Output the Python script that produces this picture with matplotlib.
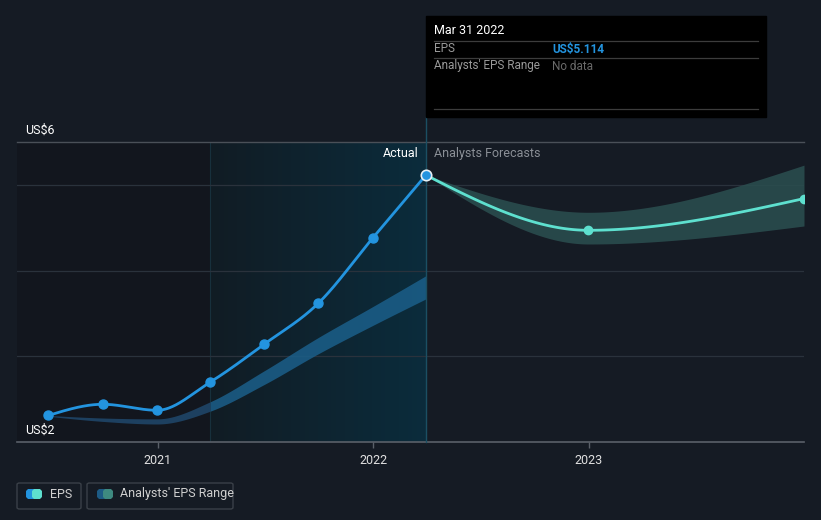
import matplotlib.pyplot as plt
import matplotlib.dates as mdates
import numpy as np
import pandas as pd
from matplotlib.colors import LinearSegmentedColormap
from matplotlib.patches import Rectangle, FancyBboxPatch, Circle

plt.rcParams['font.family'] = ['Roboto', 'DejaVu Sans']

# reported EPS (US$)
eps_dates = ['2020-06-30', '2020-09-30', '2020-12-31', '2021-03-31',
             '2021-06-30', '2021-09-30', '2021-12-31', '2022-03-31']
eps_values = [2.31, 2.44, 2.37, 2.70, 3.14, 3.62, 4.38, 5.114]

# past analyst estimate range
past_high = [2.31, 2.28, 2.27, 2.47, 2.83, 3.22, 3.58, 3.94]
past_low = [2.30, 2.24, 2.21, 2.36, 2.67, 3.03, 3.36, 3.67]

# analyst forecasts
fc_dates = ['2022-03-31', '2022-12-31', '2023-12-31']
fc_values = [5.114, 4.47, 4.84]
fc_high = [5.114, 4.68, 5.23]
fc_low = [5.114, 4.31, 4.52]

year_ticks = ['2021-01-01', '2022-01-01', '2023-01-01']
year_labels = ['2021', '2022', '2023']
grid_levels = [3, 4, 5]

BG = '#151b24'
BLUE = '#2394df'
TEAL = '#5ee0cf'
W, H = 821, 520


def monotone(x, y, n=60):
    """Monotone cubic curve (like d3 curveMonotoneX) for drawing."""
    x = np.asarray(x, float)
    y = np.asarray(y, float)
    h = np.diff(x)
    d = np.diff(y) / h
    m = np.zeros_like(y)
    for i in range(1, len(y) - 1):
        p = (d[i - 1] * h[i] + d[i] * h[i - 1]) / (h[i - 1] + h[i])
        m[i] = (np.sign(d[i - 1]) + np.sign(d[i])) * min(abs(d[i - 1]), abs(d[i]), 0.5 * abs(p))
    m[0] = (3 * d[0] - m[1]) / 2
    m[-1] = (3 * d[-1] - m[-2]) / 2
    xs, ys = [], []
    for i in range(len(h)):
        t = np.linspace(0, 1, n)
        h00 = 2 * t**3 - 3 * t**2 + 1
        h10 = t**3 - 2 * t**2 + t
        h01 = -2 * t**3 + 3 * t**2
        h11 = t**3 - t**2
        xs.append(x[i] + t * h[i])
        ys.append(h00 * y[i] + h10 * h[i] * m[i] + h01 * y[i + 1] + h11 * h[i] * m[i + 1])
    return np.concatenate(xs), np.concatenate(ys)


def fx(px):
    return px / W


def fy(py):
    return 1 - py / H


fig = plt.figure(figsize=(8.21, 5.2), dpi=100, facecolor=BG)
ax = fig.add_axes([fx(17), fy(442), fx(804) - fx(17), fy(142) - fy(442)])
ax.set_facecolor(BG)

ex = mdates.date2num(pd.to_datetime(eps_dates))
fcx = mdates.date2num(pd.to_datetime(fc_dates))
tx = mdates.date2num(pd.to_datetime(year_ticks))

x0 = tx[0] - 141 / 216 * 365
x1 = fcx[-1]
ax.set_xlim(x0, x1)
ax.set_ylim(2, 5.5)

# shaded backgrounds
hl_start = ex[3]
ax.axvspan(x0, hl_start, color='#12161e', zorder=0, lw=0)
grad = np.linspace(0, 1, 256).reshape(1, -1)
cmap = LinearSegmentedColormap.from_list('hl', ['#111c24', '#0b2c3c'])
ax.imshow(grad, cmap=cmap, aspect='auto', extent=[hl_start, ex[-1], 2, 5.5], zorder=0)
ax.axvline(hl_start, color='#17303c', lw=0.8, zorder=1)

# grid
for g in grid_levels:
    ax.axhline(g, color='#2a323c', lw=0.9, zorder=1)
ax.axhline(5.5, color='#4a5058', lw=1.0, zorder=1, clip_on=False)

for s in ax.spines.values():
    s.set_visible(False)
ax.axhline(2, color='#5a6069', lw=1.2, zorder=2, clip_on=False)
ax.set_xticks(tx)
ax.set_xticklabels(year_labels)
ax.tick_params(axis='x', colors='#5a6069', length=4, width=1, labelcolor='#e0e0e0',
               labelsize=9, pad=5)
ax.set_yticks([])

# past range band
bx, bh = monotone(ex, past_high)
_, bl = monotone(ex, past_low)
ax.fill_between(bx, bl, bh, where=bx <= hl_start + 1, color='#1d4060', lw=0, zorder=2)
ax.fill_between(bx, bl, bh, where=bx >= hl_start, color='#1b5f8a', alpha=0.85, lw=0, zorder=2)

# forecast band
fbx, fbh = monotone(fcx, fc_high)
_, fbl = monotone(fcx, fc_low)
ax.fill_between(fbx, fbl, fbh, color='#2b4f50', alpha=0.85, lw=0, zorder=2)

# forecast line
flx, fly = monotone(fcx, fc_values)
ax.plot(flx, fly, color=TEAL, lw=2, zorder=3, solid_capstyle='round')
ax.plot(fcx[1:], fc_values[1:], 'o', color=TEAL, ms=6, zorder=4)

# EPS line
lx, ly = monotone(ex, eps_values)
ax.plot(lx, ly, color=BLUE, lw=2, zorder=4, solid_capstyle='round')
ax.plot(ex[:-1], eps_values[:-1], 'o', color=BLUE, ms=6.5, zorder=5)
ax.plot(ex[-1], eps_values[-1], 'o', color=BLUE, ms=7.5, mec='#e6f0f5', mew=1.2, zorder=6)

# divider between actual and forecast
ax.plot([ex[-1], ex[-1]], [2, 5.5 + 25 / 85.7], color='#1b4f63', lw=1,
        zorder=3, clip_on=False)

ax.text(ex[-1] - 7 / 216 * 365, 5.37, 'Actual', color='#ffffff', fontsize=9,
        ha='right', va='center', zorder=6)
ax.text(ex[-1] + 8 / 216 * 365, 5.37, 'Analysts Forecasts', color='#8a8f96',
        fontsize=9, ha='left', va='center', zorder=6)

# axis value labels
fig.text(fx(25), fy(130), 'US$6', color='#ffffff', fontsize=9, va='center')
fig.text(fx(25), fy(430), 'US$2', color='#ffffff', fontsize=9, va='center')

# tooltip
fig.patches.append(Rectangle((fx(426), fy(117)), fx(766) - fx(426), fy(16) - fy(117),
                             transform=fig.transFigure, color='#000000', zorder=10))
for yy in [41, 58, 109]:
    fig.add_artist(plt.Line2D([fx(434), fx(758)], [fy(yy), fy(yy)],
                              color='#3c3c3c', lw=0.9, zorder=11))
fig.text(fx(434), fy(31), 'Mar 31 2022', color='#ffffff', fontsize=9, va='center', zorder=12)
fig.text(fx(434), fy(49), 'EPS', color='#9a9a9a', fontsize=8.5, va='center', zorder=12)
fig.text(fx(552), fy(49), 'US$5.114', color=BLUE, fontsize=8.5, va='center',
         fontweight='bold', zorder=12)
fig.text(fx(434), fy(66), "Analysts' EPS Range", color='#9a9a9a', fontsize=8.5,
         va='center', zorder=12)
fig.text(fx(552), fy(66), 'No data', color='#6a6a6a', fontsize=8.5, va='center', zorder=12)

# legend
for (l, r) in [(17, 81), (87, 233)]:
    fig.patches.append(FancyBboxPatch((fx(l), fy(509)), fx(r) - fx(l), fy(483) - fy(509),
                                      boxstyle='round,pad=0,rounding_size=0.003',
                                      transform=fig.transFigure, fc='none',
                                      ec='#3a4048', lw=1))


def legend_dot(px, py, c):
    ax_l = fig.add_axes([fx(px - 5), fy(py + 5), 10 / W, 10 / H])
    ax_l.set_axis_off()
    ax_l.add_patch(Circle((0.5, 0.5), 0.5, color=c))
    ax_l.set_xlim(0, 1)
    ax_l.set_ylim(0, 1)


legend_dot(31, 494, BLUE)
legend_dot(37, 494, TEAL)
fig.text(fx(50), fy(494), 'EPS', color='#d0d0d0', fontsize=9, va='center')
legend_dot(102, 494, '#1d5b85')
legend_dot(108, 494, '#3e8a80')
fig.text(fx(120), fy(494), "Analysts' EPS Range", color='#d0d0d0', fontsize=9, va='center')

fig.savefig('out.png', dpi=100, facecolor=BG)
